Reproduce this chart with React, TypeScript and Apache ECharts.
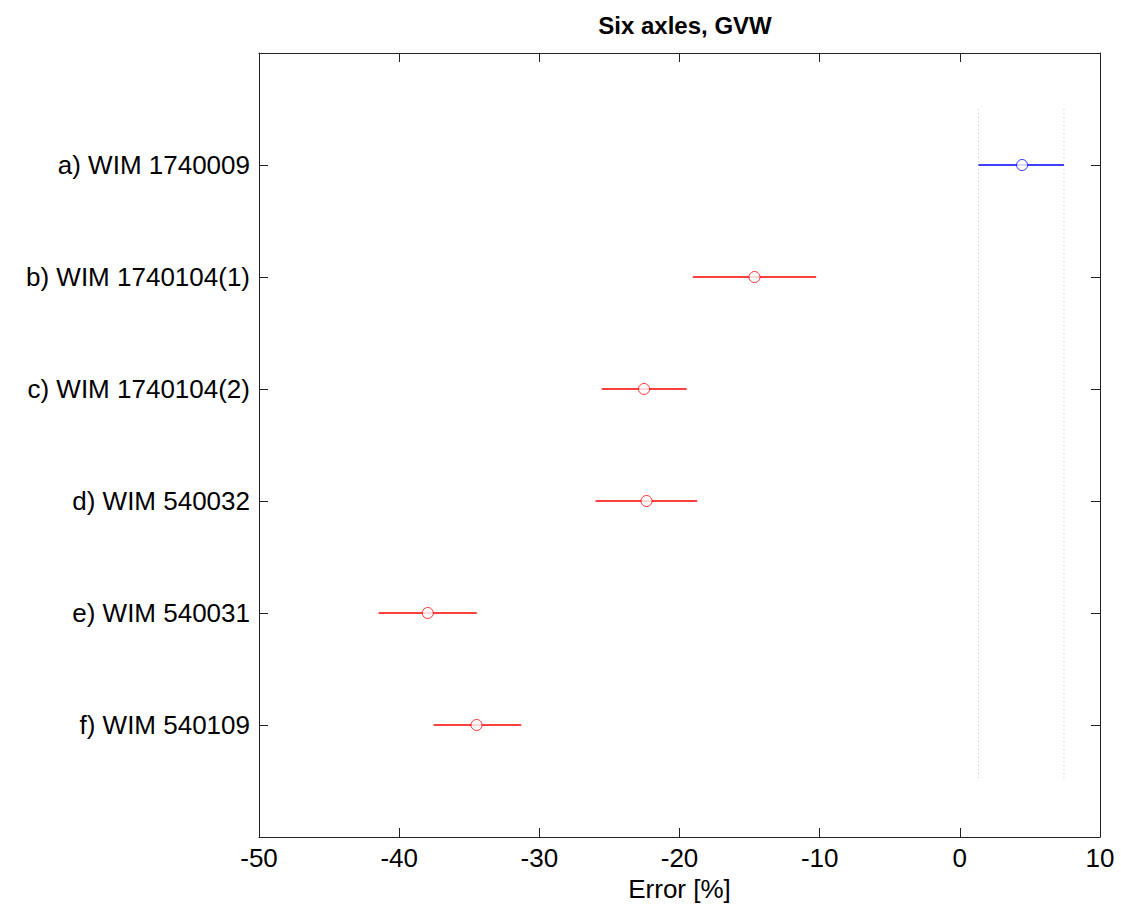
import React, { useEffect, useRef } from "react";
import * as echarts from "echarts";

const categories = [
  "a) WIM 1740009",
  "b) WIM 1740104(1)",
  "c) WIM 1740104(2)",
  "d) WIM 540032",
  "e) WIM 540031",
  "f) WIM 540109",
];
const means = [4.44, -14.65, -22.53, -22.35, -37.96, -34.48];
const lows = [1.33, -19.05, -25.55, -25.99, -41.47, -37.55];
const highs = [7.43, -10.25, -19.49, -18.74, -34.46, -31.29];
const colors = ["#0000ff", "#ff0000", "#ff0000", "#ff0000", "#ff0000", "#ff0000"];
const guideX = [1.33, 7.43];
const guideSpan = [0.5, 6.5];
const xTicks = [-50, -40, -30, -20, -10, 0, 10];

const FONT = "'Liberation Sans', Arial, Helvetica, sans-serif";
const AXIS_COLOR = "#222";

export default function App() {
  const ref = useRef<HTMLDivElement>(null);
  useEffect(() => {
    if (!ref.current) return;
    const chart = echarts.init(ref.current, undefined, { renderer: "svg" });
    const axisCommon = {
      axisLine: { show: true, onZero: false, lineStyle: { color: AXIS_COLOR, width: 1 } },
      axisTick: { show: true, inside: true, length: 9, lineStyle: { color: AXIS_COLOR, width: 1 } },
      splitLine: { show: false },
    };
    const barData = categories.map((_, i) => [lows[i], highs[i], i + 1]);
    const pointData = categories.map((_, i) => ({
      value: [means[i], i + 1],
      itemStyle: { color: "#fff", borderColor: colors[i], borderWidth: 1 },
    }));
    const guideData = guideX.map((x) => [x, guideSpan[0], guideSpan[1]]);
    chart.setOption({
      animation: false,
      backgroundColor: "#fff",
      title: {
        text: "Six axles, GVW",
        left: 680,
        top: 8,
        textAlign: "center",
        textStyle: { fontFamily: FONT, fontSize: 24, fontWeight: "bold", color: "#000" },
      },
      grid: { left: 259, right: 21, top: 53, bottom: 71, containLabel: false },
      xAxis: [
        {
          type: "value",
          position: "bottom",
          min: xTicks[0],
          max: xTicks[xTicks.length - 1],
          interval: 10,
          name: "Error [%]",
          nameLocation: "middle",
          nameGap: 28,
          nameTextStyle: { fontFamily: FONT, fontSize: 26, color: "#000" },
          axisLabel: { fontFamily: FONT, fontSize: 26, color: "#000", margin: 8 },
          ...axisCommon,
        },
        {
          type: "value",
          position: "top",
          min: xTicks[0],
          max: xTicks[xTicks.length - 1],
          interval: 10,
          axisLabel: { show: false },
          ...axisCommon,
        },
      ],
      yAxis: [
        {
          type: "value",
          position: "left",
          min: 0,
          max: 7,
          interval: 1,
          inverse: true,
          axisLabel: {
            fontFamily: FONT,
            fontSize: 26,
            color: "#000",
            margin: 9,
            formatter: (v: number) => categories[v - 1] || "",
          },
          ...axisCommon,
        },
        {
          type: "value",
          position: "right",
          min: 0,
          max: 7,
          interval: 1,
          inverse: true,
          axisLabel: { show: false },
          ...axisCommon,
        },
      ],
      series: [
        {
          type: "custom",
          name: "guides",
          data: guideData,
          silent: true,
          renderItem: (params: any, api: any) => {
            const x = api.value(0);
            const p1 = api.coord([x, api.value(1)]);
            const p2 = api.coord([x, api.value(2)]);
            return {
              type: "line",
              shape: { x1: p1[0], y1: p1[1], x2: p2[0], y2: p2[1] },
              style: { stroke: "#c4c4c4", lineWidth: 1, lineDash: [1, 3] },
            };
          },
        },
        {
          type: "custom",
          name: "interval",
          data: barData,
          silent: true,
          renderItem: (params: any, api: any) => {
            const y = api.value(2);
            const p1 = api.coord([api.value(0), y]);
            const p2 = api.coord([api.value(1), y]);
            return {
              type: "line",
              shape: { x1: p1[0], y1: p1[1], x2: p2[0], y2: p2[1] },
              style: { stroke: colors[params.dataIndex], lineWidth: 1.3 },
            };
          },
        },
        {
          type: "scatter",
          name: "mean",
          symbol: "circle",
          symbolSize: 11,
          data: pointData,
          silent: true,
          z: 5,
        },
      ],
    });
    return () => chart.dispose();
  }, []);
  return (
    <div
      ref={ref}
      style={{ position: "fixed", left: 0, top: 0, width: 1121, height: 908, background: "#fff" }}
    />
  );
}
